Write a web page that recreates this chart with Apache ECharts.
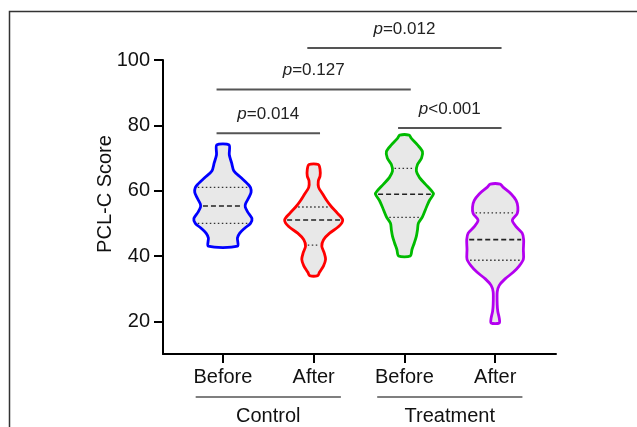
<!DOCTYPE html>
<html>
<head>
<meta charset="utf-8">
<script src="https://cdn.jsdelivr.net/npm/echarts@6/dist/echarts.min.js"></script>
<style>
  html, body { margin: 0; padding: 0; background: #fff; }
  #main { width: 637px; height: 427px; }
</style>
</head>
<body>
<div id="main"></div>
<script>
// categories on the x axis and the two groups under them
const categories = ["Before", "After", "Before", "After"];
const groups = ["Control", "Treatment"];
const yTicks = [20, 40, 60, 80, 100];

// violin outlines: [score, relative density]
const controlBefore = [[74, 0.21], [71, 0.22], [68.5, 0.3], [66, 0.38], [64, 0.62], [62, 0.86], [61, 0.95], [59.5, 0.97], [58, 0.9], [56, 0.78], [55, 0.77], [53.5, 0.85], [51.5, 1], [50, 0.95], [48.5, 0.75], [47, 0.58], [45.5, 0.5], [43, 0.5]];
const controlAfter = [[68, 0.16], [66.5, 0.22], [64.5, 0.22], [63, 0.16], [61, 0.17], [59, 0.31], [57, 0.45], [55, 0.62], [53, 0.83], [51, 1], [49, 0.86], [47, 0.55], [45, 0.34], [43, 0.28], [41, 0.36], [39, 0.41], [37, 0.34], [35, 0.2], [34, 0.14]];
const treatBefore = [[77, 0.16], [76, 0.24], [74, 0.45], [72, 0.62], [70, 0.59], [68, 0.45], [66, 0.41], [64, 0.52], [62, 0.72], [60, 0.93], [59, 1], [57, 0.86], [55, 0.76], [52, 0.62], [50, 0.48], [48, 0.45], [46, 0.41], [44, 0.34], [42, 0.26], [40, 0.2]];
const treatAfter = [[62, 0.17], [61, 0.28], [59, 0.55], [57, 0.72], [55, 0.78], [53, 0.76], [51, 0.59], [49, 0.72], [47, 0.93], [45, 0.98], [42, 0.97], [39, 0.97], [37, 0.83], [35, 0.62], [33, 0.34], [31, 0.14], [29, 0.07], [25, 0.07], [23, 0.09], [21, 0.14], [19.5, 0.14]];

// quartiles [Q1, median, Q3]
const controlBeforeQ = [50, 55.3, 61];
const controlAfterQ = [43.3, 51, 55];
const treatBeforeQ = [51.8, 58.9, 66.8];
const treatAfterQ = [38.7, 45, 53.2];

// pairwise comparisons: [from category, to category, p text]
const comparisons = [
  [1, 2, "=0.014"],
  [1, 3, "=0.127"],
  [2, 4, "=0.012"],
  [3, 4, "<0.001"]
];

const profiles = [controlBefore, controlAfter, treatBefore, treatAfter];
const quartiles = [controlBeforeQ, controlAfterQ, treatBeforeQ, treatAfterQ];
const colors = ["#0000ff", "#ff0000", "#00bb00", "#b400f0"];
const bracketLevels = [77.6, 91, 103.7, 79.2];
const FONT = "Liberation Sans, Arial, sans-serif";

function widthAt(prof, v) {
  for (let k = 0; k < prof.length - 1; k++) {
    const a = prof[k], b = prof[k + 1];
    if (v <= a[0] && v >= b[0]) {
      const t = (a[0] - v) / (a[0] - b[0]);
      return a[1] + (b[1] - a[1]) * t;
    }
  }
  return 0;
}

function renderViolin(params, api) {
  const i = params.dataIndex;
  const x = api.value(0);
  const prof = profiles[i];
  const unit = api.size([1, 0])[0] * 0.32;
  const right = [], left = [];
  prof.forEach(function (p) {
    const c = api.coord([x, p[0]]);
    right.push([c[0] + p[1] * unit, c[1]]);
    left.unshift([c[0] - p[1] * unit, c[1]]);
  });
  const children = [{
    type: "polygon",
    shape: { points: right.concat(left), smooth: 0.28 },
    style: { fill: "#e8e8e8", stroke: colors[i], lineWidth: 2.8 }
  }];
  quartiles[i].forEach(function (q, k) {
    const c = api.coord([x, q]);
    const w = widthAt(prof, q) * unit - 2.5;
    const median = k === 1;
    children.push({
      type: "line",
      shape: { x1: c[0] - w, y1: c[1], x2: c[0] + w, y2: c[1] },
      style: median
        ? { stroke: "#222", lineWidth: 1.6, lineDash: [5, 3] }
        : { stroke: "#333", lineWidth: 1.3, lineDash: [1.5, 2.5] }
    });
  });
  return { type: "group", children: children };
}

function renderBracket(params, api) {
  const i = params.dataIndex;
  const cmp = comparisons[i];
  const a = api.coord([cmp[0] - 0.07, bracketLevels[i]]);
  const b = api.coord([cmp[1] + 0.07, bracketLevels[i]]);
  return {
    type: "group",
    children: [{
      type: "line",
      shape: { x1: a[0], y1: a[1], x2: b[0], y2: b[1] },
      style: { stroke: "#555", lineWidth: 2 }
    }, {
      type: "text",
      x: (a[0] + b[0]) / 2,
      y: a[1] - 19,
      style: {
        text: "{i|p}" + cmp[2],
        rich: { i: { fontStyle: "italic", fontSize: 17, fontFamily: FONT, fill: "#222" } },
        fontSize: 17, fontFamily: FONT, fill: "#222",
        align: "center", verticalAlign: "middle"
      }
    }]
  };
}

function renderGroup(params, api) {
  const g = params.dataIndex;
  const cx = api.value(0);
  const a = api.coord([cx - 0.8, 10]);
  const b = api.coord([cx + 0.8, 10]);
  return {
    type: "group",
    children: [{
      type: "line",
      shape: { x1: a[0], y1: a[1] + 43, x2: b[0], y2: b[1] + 43 },
      style: { stroke: "#555", lineWidth: 1.6 }
    }, {
      type: "text",
      x: (a[0] + b[0]) / 2,
      y: a[1] + 62,
      style: {
        text: groups[g], fontSize: 20, fontFamily: FONT, fill: "#111",
        align: "center", verticalAlign: "middle"
      }
    }]
  };
}

const myChart = echarts.init(document.getElementById("main"));
const option = {
  animation: false,
  backgroundColor: "#fff",
  graphic: [{
    type: "rect",
    z: -10,
    shape: { x: 9.5, y: 11.5, width: 700, height: 500 },
    style: { fill: "none", stroke: "#333", lineWidth: 1.5 }
  }, {
    // y axis title
    type: "text",
    x: 105,
    y: 194,
    rotation: Math.PI / 2,
    style: {
      text: "PCL-C Score", fontSize: 20, fontFamily: FONT, fill: "#111",
      align: "center", verticalAlign: "middle"
    }
  }],
  grid: { left: 163, right: 81, top: 60, bottom: 73 },
  xAxis: {
    type: "value",
    min: 0.34,
    max: 4.67,
    splitLine: { show: false },
    axisLine: { lineStyle: { color: "#000", width: 2 } },
    axisTick: { show: true, customValues: [1, 2, 3, 4], length: 9, lineStyle: { color: "#000", width: 2 } },
    axisLabel: {
      customValues: [1, 2, 3, 4],
      margin: 13,
      fontSize: 20,
      fontFamily: FONT,
      color: "#111",
      formatter: function (v) { return categories[Math.round(v) - 1]; }
    }
  },
  yAxis: {
    type: "value",
    min: 10,
    max: 100,
    splitLine: { show: false },
    axisLine: { show: true, lineStyle: { color: "#000", width: 2 } },
    axisTick: { show: true, customValues: yTicks, length: 9, lineStyle: { color: "#000", width: 2 } },
    axisLabel: { customValues: yTicks, margin: 13, fontSize: 20, fontFamily: FONT, color: "#111" }
  },
  series: [{
    type: "custom",
    renderItem: renderViolin,
    clip: false,
    data: categories.map(function (c, i) { return [i + 1, quartiles[i][1]]; })
  }, {
    type: "custom",
    renderItem: renderBracket,
    clip: false,
    data: comparisons.map(function (c, i) { return [(c[0] + c[1]) / 2, bracketLevels[i]]; })
  }, {
    type: "custom",
    renderItem: renderGroup,
    clip: false,
    data: groups.map(function (g, i) { return [i * 2 + 1.5, 10]; })
  }]
};
myChart.setOption(option);
</script>
</body>
</html>
